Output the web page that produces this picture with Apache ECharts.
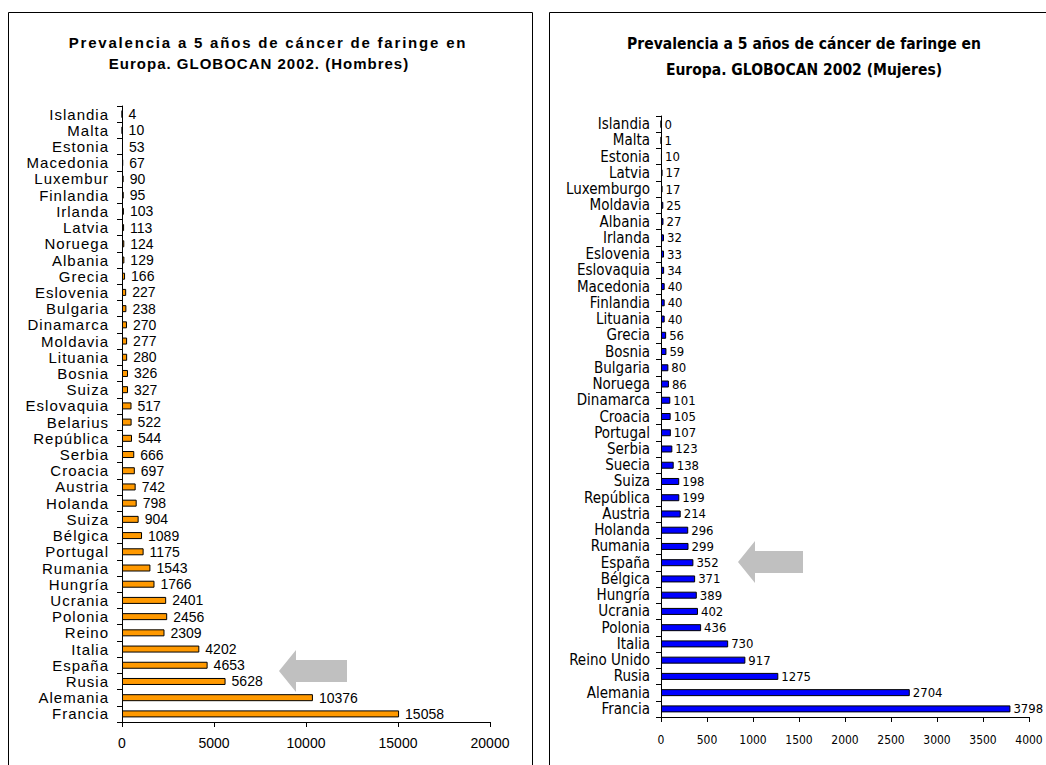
<!DOCTYPE html>
<html>
<head>
<meta charset="utf-8">
<title>Prevalencia a 5 años de cáncer de faringe en Europa</title>
<script src="https://cdn.jsdelivr.net/npm/echarts@6/dist/echarts.min.js"></script>
<style>
  html, body { margin: 0; padding: 0; background: #fff; }
  #chart { width: 1046px; height: 765px; }
  /* the men's panel uses loosely tracked lettering for country names and title */
  #chart text[style*="Arimo"] { letter-spacing: 1px; }
  #chart text[style*="Helvetica"] { letter-spacing: 1.8px; }
  #chart text[style*="Nimbus"] { letter-spacing: 1px; }
</style>
</head>
<body>
<div id="chart"></div>
<script>
// Hombres: países de arriba abajo y prevalencia a 5 años
const menCountries = ['Islandia', 'Malta', 'Estonia', 'Macedonia', 'Luxembur', 'Finlandia', 'Irlanda',
  'Latvia', 'Noruega', 'Albania', 'Grecia', 'Eslovenia', 'Bulgaria', 'Dinamarca', 'Moldavia',
  'Lituania', 'Bosnia', 'Suiza', 'Eslovaquia', 'Belarius', 'República', 'Serbia', 'Croacia',
  'Austria', 'Holanda', 'Suiza', 'Bélgica', 'Portugal', 'Rumania', 'Hungría', 'Ucrania',
  'Polonia', 'Reino', 'Italia', 'España', 'Rusia', 'Alemania', 'Francia'];
const menValues = [4, 10, 53, 67, 90, 95, 103, 113, 124, 129, 166, 227, 238, 270, 277, 280, 326,
  327, 517, 522, 544, 666, 697, 742, 798, 904, 1089, 1175, 1543, 1766, 2401, 2456, 2309, 4202,
  4653, 5628, 10376, 15058];
const menTicks = [0, 5000, 10000, 15000, 20000];

// Mujeres
const womenCountries = ['Islandia', 'Malta', 'Estonia', 'Latvia', 'Luxemburgo', 'Moldavia', 'Albania',
  'Irlanda', 'Eslovenia', 'Eslovaquia', 'Macedonia', 'Finlandia', 'Lituania', 'Grecia', 'Bosnia',
  'Bulgaria', 'Noruega', 'Dinamarca', 'Croacia', 'Portugal', 'Serbia', 'Suecia', 'Suiza',
  'República', 'Austria', 'Holanda', 'Rumania', 'España', 'Bélgica', 'Hungría', 'Ucrania',
  'Polonia', 'Italia', 'Reino Unido', 'Rusia', 'Alemania', 'Francia'];
const womenValues = [0, 1, 10, 17, 17, 25, 27, 32, 33, 34, 40, 40, 40, 56, 59, 80, 86, 101, 105,
  107, 123, 138, 198, 199, 214, 296, 299, 352, 371, 389, 402, 436, 730, 917, 1275, 2704, 3798];
const womenTicks = [0, 500, 1000, 1500, 2000, 2500, 3000, 3500, 4000];

const menTitle = ['Prevalencia a 5 años de cáncer de faringe en', 'Europa. GLOBOCAN 2002. (Hombres)'];
const womenTitle = ['Prevalencia a 5 años de cáncer de faringe en', 'Europa. GLOBOCAN 2002 (Mujeres)'];

// font stacks (the trailing family names also select the letter tracking above)
const SANS = '"Liberation Sans", Arial, sans-serif';
const SANS_NAMES = '"Liberation Sans", Arimo, sans-serif';
const SANS_TITLE1 = '"Liberation Sans", Helvetica, sans-serif';
const SANS_TITLE2 = '"Liberation Sans", "Nimbus Sans", sans-serif';
const NARROW = '"DejaVu Sans Condensed", sans-serif';

const chart = echarts.init(document.getElementById('chart'), null, { renderer: 'svg' });

function valueAxis(gridIndex, ticks, font, size, margin) {
  return {
    type: 'value', gridIndex,
    min: ticks[0], max: ticks[ticks.length - 1], interval: ticks[1] - ticks[0],
    splitLine: { show: false },
    axisLine: { show: true, lineStyle: { color: '#000', width: 1 } },
    axisTick: { show: true, length: 5, lineStyle: { color: '#000' } },
    axisLabel: { color: '#000', fontFamily: font, fontSize: size, margin,
      formatter: v => String(v) }
  };
}

function categoryAxis(gridIndex, names, font, size, margin) {
  return {
    type: 'category', gridIndex, inverse: true, data: names,
    axisLine: { show: true, lineStyle: { color: '#000', width: 1 } },
    axisTick: { show: true, length: 5, lineStyle: { color: '#000' } },
    axisLabel: { color: '#000', fontFamily: font, fontSize: size, margin, interval: 0 }
  };
}

function barSeries(idx, values, color, font, size, dist) {
  return {
    type: 'bar', xAxisIndex: idx, yAxisIndex: idx, data: values,
    barWidth: 7,
    itemStyle: { color, borderColor: '#000', borderWidth: 1 },
    label: { show: true, position: 'right', distance: dist, color: '#000', fontFamily: font, fontSize: size },
    silent: true, animation: false
  };
}

function titleLine(text, cx, y, font, size) {
  return {
    type: 'text', silent: true,
    style: { text, x: cx, y, textAlign: 'center', textVerticalAlign: 'middle',
      fill: '#000', font: 'bold ' + size + 'px ' + font }
  };
}

function arrow(tipX, tipY, baseX, endX, headHalf, shaftHalf) {
  return {
    type: 'polygon', silent: true,
    shape: { points: [[tipX, tipY], [baseX, tipY - headHalf], [baseX, tipY - shaftHalf],
      [endX, tipY - shaftHalf], [endX, tipY + shaftHalf], [baseX, tipY + shaftHalf], [baseX, tipY + headHalf]] },
    style: { fill: '#c0c0c0' }
  };
}

chart.setOption({
  backgroundColor: '#fff',
  animation: false,
  grid: [
    { left: 122, right: 556, top: 106, bottom: 43, outerBoundsMode: 'none' },
    { left: 661, right: 17, top: 116, bottom: 48, outerBoundsMode: 'none' }
  ],
  xAxis: [valueAxis(0, menTicks, SANS, 14, 14), valueAxis(1, womenTicks, NARROW, 12, 17)],
  yAxis: [categoryAxis(0, menCountries, SANS_NAMES, 15, 13), categoryAxis(1, womenCountries, NARROW, 15, 11)],
  series: [
    barSeries(0, menValues, '#ff9900', SANS, 14, 6),
    barSeries(1, womenValues, '#0000ff', NARROW, 13, 3)
  ],
  graphic: [
    { type: 'rect', silent: true, shape: { x: 8.5, y: 12.5, width: 524, height: 800 },
      style: { fill: 'none', stroke: '#000', lineWidth: 1 } },
    { type: 'rect', silent: true, shape: { x: 549.5, y: 12.5, width: 600, height: 800 },
      style: { fill: 'none', stroke: '#000', lineWidth: 1 } },
    titleLine(menTitle[0], 268, 42, SANS_TITLE1, 15),
    titleLine(menTitle[1], 259, 63, SANS_TITLE2, 15),
    titleLine(womenTitle[0], 804, 44, NARROW, 15.5),
    titleLine(womenTitle[1], 804, 70, NARROW, 15.5),
    arrow(279, 671, 296, 347, 21, 11),
    arrow(738, 562, 755, 803, 21, 11)
  ]
});
</script>
</body>
</html>
